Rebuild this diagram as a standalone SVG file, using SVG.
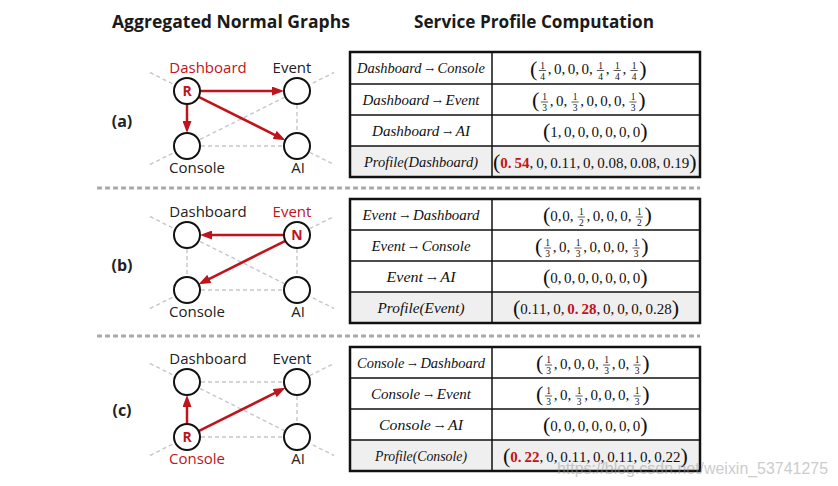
<svg xmlns="http://www.w3.org/2000/svg" width="838" height="486" viewBox="0 0 838 486">
<defs>
<style>
.title{font-family:"Open Sans","Liberation Sans",sans-serif;font-weight:700;font-size:17px;fill:#1a1a1a}
.lbl{font-family:"Open Sans","Liberation Sans",sans-serif;font-size:15px;fill:#222;text-anchor:middle}
.red{fill:#c0141c}
.sec{font-family:"Open Sans","Liberation Sans",sans-serif;font-weight:700;font-size:16px;fill:#222;text-anchor:middle}
.nd{fill:#fff;stroke:#111;stroke-width:2}
.ltr{font-family:"Open Sans","Liberation Sans",sans-serif;font-weight:700;font-size:14px;fill:#c0141c;text-anchor:middle}
.dash{stroke:#c3c8cc;stroke-width:1.4;stroke-dasharray:4 3;fill:none}
.arr{stroke:#c0141c;stroke-width:2.5;fill:none;marker-end:url(#ah)}
.sep{stroke:#aaa;stroke-width:3;stroke-dasharray:5 3}
.tb{fill:none;stroke:#111;stroke-width:2.5}
.pr{fill:#efefef}
.gl{stroke:#111;stroke-width:1.5}
.lt{font-family:"Liberation Serif","Times New Roman",serif;font-style:italic;font-size:14.5px;fill:#111;text-anchor:middle}
.ar{font-family:"DejaVu Serif","Liberation Serif",serif;font-style:normal;font-size:10.5px}
.m{font-family:"Liberation Serif","Times New Roman",serif;font-size:15px;fill:#111}
.mb{font-family:"Liberation Serif","Times New Roman",serif;font-size:15px;font-weight:700;fill:#c0141c}
.bp{font-family:"Liberation Serif","Times New Roman",serif;font-size:22px;fill:#111}
.fr{font-family:"Liberation Serif","Times New Roman",serif;font-size:9.5px;fill:#111;text-anchor:middle}
.fb{stroke:#111;stroke-width:0.7}
.wm{font-family:"Liberation Sans",Arial,sans-serif;font-size:16px;fill:#9a9a9a;opacity:0.5}
</style>
<marker id="ah" markerUnits="userSpaceOnUse" viewBox="0 0 12 9" markerWidth="12" markerHeight="9" refX="1" refY="4.5" orient="auto"><path d="M0,0 L12,4.5 L0,9 z" fill="#c0141c"/></marker>
<g id="f14"><text class="fr" y="-2">1</text><line class="fb" x1="-3.6" x2="3.6" y1="0" y2="0"/><text class="fr" y="9">4</text></g>
<g id="f13"><text class="fr" y="-2">1</text><line class="fb" x1="-3.6" x2="3.6" y1="0" y2="0"/><text class="fr" y="9">3</text></g>
<g id="f12"><text class="fr" y="-2">1</text><line class="fb" x1="-3.6" x2="3.6" y1="0" y2="0"/><text class="fr" y="9">2</text></g>
</defs>
<rect width="838" height="486" fill="#fff"/>

<text class="title" x="112" y="28" textLength="238" lengthAdjust="spacingAndGlyphs">Aggregated Normal Graphs</text>
<text class="title" x="414" y="28" textLength="240" lengthAdjust="spacingAndGlyphs">Service Profile Computation</text>

<g id="separators">
<line class="sep" x1="97" y1="188" x2="700" y2="188"/>
<line class="sep" x1="97" y1="336" x2="700" y2="336"/>
</g>

<g id="connectors">
<line class="dash" x1="150" y1="72.5" x2="187" y2="91"/>
<line class="dash" x1="297" y1="146" x2="334" y2="164.5"/>
<line class="dash" x1="150" y1="164.5" x2="334" y2="72.5"/>
<line class="dash" x1="187" y1="146" x2="297" y2="146"/>
<line class="dash" x1="297" y1="91" x2="297" y2="146"/>
<line class="arr" x1="200" y1="91" x2="273" y2="91"/>
<line class="arr" x1="187" y1="104" x2="187" y2="122"/>
<line class="arr" x1="198.6" y1="96.8" x2="275.6" y2="135.3"/>
<line class="dash" x1="187" y1="235" x2="187" y2="290"/>
<line class="dash" x1="187" y1="290" x2="297" y2="290"/>
<line class="dash" x1="297" y1="235" x2="297" y2="290"/>
<line class="dash" x1="150" y1="216.5" x2="334" y2="308.5"/>
<line class="dash" x1="150" y1="308.5" x2="187" y2="290"/>
<line class="dash" x1="297" y1="235" x2="334" y2="216.5"/>
<line class="arr" x1="284" y1="235" x2="211" y2="235"/>
<line class="arr" x1="285.4" y1="240.8" x2="208.4" y2="279.3"/>
<line class="dash" x1="187" y1="382" x2="297" y2="382"/>
<line class="dash" x1="187" y1="437" x2="297" y2="437"/>
<line class="dash" x1="297" y1="382" x2="297" y2="437"/>
<line class="dash" x1="150" y1="363.5" x2="334" y2="455.5"/>
<line class="dash" x1="150" y1="455.5" x2="187" y2="437"/>
<line class="dash" x1="297" y1="382" x2="334" y2="363.5"/>
<line class="arr" x1="187" y1="424" x2="187" y2="406"/>
<line class="arr" x1="198.6" y1="431.2" x2="275.6" y2="392.7"/>
</g>

<text class="sec" x="122" y="127">(a)</text>
<text class="sec" x="122" y="271">(b)</text>
<text class="sec" x="122" y="416">(c)</text>

<g id="a-dashboard"><circle class="nd" cx="187" cy="91" r="13"/><text class="ltr" x="187" y="96">R</text><text class="lbl red" x="208" y="73">Dashboard</text></g>
<g id="a-event"><circle class="nd" cx="297" cy="91" r="13"/><text class="lbl" x="292" y="73">Event</text></g>
<g id="a-console"><circle class="nd" cx="187" cy="146" r="13"/><text class="lbl" x="197" y="173">Console</text></g>
<g id="a-ai"><circle class="nd" cx="297" cy="146" r="13"/><text class="lbl" x="298" y="173">AI</text></g>

<g id="b-dashboard"><circle class="nd" cx="187" cy="235" r="13"/><text class="lbl" x="208" y="217">Dashboard</text></g>
<g id="b-event"><circle class="nd" cx="297" cy="235" r="13"/><text class="ltr" x="297" y="240">N</text><text class="lbl red" x="292" y="217">Event</text></g>
<g id="b-console"><circle class="nd" cx="187" cy="290" r="13"/><text class="lbl" x="197" y="317">Console</text></g>
<g id="b-ai"><circle class="nd" cx="297" cy="290" r="13"/><text class="lbl" x="298" y="317">AI</text></g>

<g id="c-dashboard"><circle class="nd" cx="187" cy="382" r="13"/><text class="lbl" x="208" y="364">Dashboard</text></g>
<g id="c-event"><circle class="nd" cx="297" cy="382" r="13"/><text class="lbl" x="292" y="364">Event</text></g>
<g id="c-console"><circle class="nd" cx="187" cy="437" r="13"/><text class="ltr" x="187" y="442">R</text><text class="lbl red" x="197" y="464">Console</text></g>
<g id="c-ai"><circle class="nd" cx="297" cy="437" r="13"/><text class="lbl" x="298" y="464">AI</text></g>

<g id="table-a">
<rect class="pr" x="350" y="146" width="350" height="31"/>
<rect class="tb" x="350" y="52" width="350" height="125"/>
<line class="gl" x1="350" y1="84" x2="700" y2="84"/>
<line class="gl" x1="350" y1="115" x2="700" y2="115"/>
<line class="gl" x1="350" y1="146" x2="700" y2="146"/>
<line class="gl" x1="492" y1="52" x2="492" y2="177"/>
<text class="lt" x="421" y="73" textLength="128" lengthAdjust="spacingAndGlyphs">Dashboard <tspan class="ar">→</tspan> Console</text>
<text class="lt" x="421" y="104.5" textLength="117" lengthAdjust="spacingAndGlyphs">Dashboard <tspan class="ar">→</tspan> Event</text>
<text class="lt" x="421" y="135.5" textLength="98" lengthAdjust="spacingAndGlyphs">Dashboard <tspan class="ar">→</tspan> AI</text>
<text class="lt" x="421" y="166.5" textLength="114" lengthAdjust="spacingAndGlyphs">Profile(Dashboard)</text>
<text class="bp" x="530" y="75.6">(</text><text class="bp" x="639.3" y="75.6">)</text>
<use href="#f14" x="542.55" y="70.5"/><use href="#f14" x="600.55" y="70.5"/><use href="#f14" x="617.3" y="70.5"/><use href="#f14" x="634.05" y="70.5"/>
<text class="m" x="547.8 554.05 561.55 567.8 575.3 581.55 589.05 605.8 622.55" y="74">,0,0,0,,,</text>
<text class="bp" x="532" y="107.1">(</text><text class="bp" x="638.3" y="107.1">)</text>
<use href="#f13" x="544.55" y="102"/><use href="#f13" x="575.05" y="102"/><use href="#f13" x="633.05" y="102"/>
<text class="m" x="549.8 556.05 563.55 580.3 586.55 594.05 600.3 607.8 614.05 621.55" y="105.5">,0,,0,0,0,</text>
<text class="bp" x="543" y="138.1">(</text><text class="bp" x="640.3" y="138.1">)</text>
<text class="m" x="550.3 557.8 564.05 571.55 577.8 585.3 591.55 599.05 605.3 612.8 619.05 626.55 632.8" y="136.5">1,0,0,0,0,0,0</text>
<text class="bp" x="493" y="169.1">(</text><text class="bp" x="689.15" y="169.1">)</text>
<text class="mb" x="500.3 507.8 514.55 522.05" y="167.5">0.54</text>
<text class="m" x="529.55 536.15 543.65 550.25 557.75 561.5 569 576.5 583.1 590.6 597.2 604.7 608.45 615.95 623.45 630.05 637.55 641.3 648.8 656.3 662.9 670.4 674.15 681.65" y="167.5">,0,0.11,0,0.08,0.08,0.19</text>
</g>

<g id="table-b">
<rect class="pr" x="350" y="292" width="350" height="31"/>
<rect class="tb" x="350" y="199" width="350" height="124"/>
<line class="gl" x1="350" y1="230" x2="700" y2="230"/>
<line class="gl" x1="350" y1="261" x2="700" y2="261"/>
<line class="gl" x1="350" y1="292" x2="700" y2="292"/>
<line class="gl" x1="492" y1="199" x2="492" y2="323"/>
<text class="lt" x="421" y="219.5" textLength="117" lengthAdjust="spacingAndGlyphs">Event <tspan class="ar">→</tspan> Dashboard</text>
<text class="lt" x="421" y="250.5" textLength="99" lengthAdjust="spacingAndGlyphs">Event <tspan class="ar">→</tspan> Console</text>
<text class="lt" x="421" y="281.5" textLength="69" lengthAdjust="spacingAndGlyphs">Event <tspan class="ar">→</tspan> AI</text>
<text class="lt" x="421" y="312.5" textLength="87" lengthAdjust="spacingAndGlyphs">Profile(Event)</text>
<text class="bp" x="543" y="222.1">(</text><text class="bp" x="644.55" y="222.1">)</text>
<use href="#f12" x="581.3" y="217"/><use href="#f12" x="639.3" y="217"/>
<text class="m" x="550.3 557.8 562.3 569.8 586.55 592.8 600.3 606.55 614.05 620.3 627.8" y="220.5">0,0,,0,0,0,</text>
<text class="bp" x="535" y="253.1">(</text><text class="bp" x="641.3" y="253.1">)</text>
<use href="#f13" x="547.55" y="248"/><use href="#f13" x="578.05" y="248"/><use href="#f13" x="636.05" y="248"/>
<text class="m" x="552.8 559.05 566.55 583.3 589.55 597.05 603.3 610.8 617.05 624.55" y="251.5">,0,,0,0,0,</text>
<text class="bp" x="543" y="284.1">(</text><text class="bp" x="640.3" y="284.1">)</text>
<text class="m" x="550.3 557.8 564.05 571.55 577.8 585.3 591.55 599.05 605.3 612.8 619.05 626.55 632.8" y="282.5">0,0,0,0,0,0,0</text>
<text class="bp" x="513" y="315.1">(</text><text class="bp" x="671.65" y="315.1">)</text>
<text class="m" x="520.3 527.8 531.55 539.05 546.55 553.15 560.65" y="313.5">0.11,0,</text>
<text class="mb" x="567.25 574.75 581.5 589" y="313.5">0.28</text>
<text class="m" x="596.5 603.1 610.6 617.2 624.7 631.3 638.8 645.4 652.9 656.65 664.15" y="313.5">,0,0,0,0.28</text>
</g>

<g id="table-c">
<rect class="pr" x="350" y="440" width="350" height="31"/>
<rect class="tb" x="350" y="347" width="350" height="124"/>
<line class="gl" x1="350" y1="378" x2="700" y2="378"/>
<line class="gl" x1="350" y1="409" x2="700" y2="409"/>
<line class="gl" x1="350" y1="440" x2="700" y2="440"/>
<line class="gl" x1="492" y1="347" x2="492" y2="471"/>
<text class="lt" x="421" y="367.5" textLength="128" lengthAdjust="spacingAndGlyphs">Console <tspan class="ar">→</tspan> Dashboard</text>
<text class="lt" x="421" y="398.5" textLength="100" lengthAdjust="spacingAndGlyphs">Console <tspan class="ar">→</tspan> Event</text>
<text class="lt" x="421" y="429.5" textLength="84" lengthAdjust="spacingAndGlyphs">Console <tspan class="ar">→</tspan> AI</text>
<text class="lt" x="421" y="460.5" textLength="92" lengthAdjust="spacingAndGlyphs">Profile(Console)</text>
<text class="bp" x="536" y="370.1">(</text><text class="bp" x="642.3" y="370.1">)</text>
<use href="#f13" x="548.55" y="365"/><use href="#f13" x="606.55" y="365"/><use href="#f13" x="637.05" y="365"/>
<text class="m" x="553.8 560.05 567.55 573.8 581.3 587.55 595.05 611.8 618.05 625.55" y="368.5">,0,0,0,,0,</text>
<text class="bp" x="536" y="401.1">(</text><text class="bp" x="642.3" y="401.1">)</text>
<use href="#f13" x="548.55" y="396"/><use href="#f13" x="579.05" y="396"/><use href="#f13" x="637.05" y="396"/>
<text class="m" x="553.8 560.05 567.55 584.3 590.55 598.05 604.3 611.8 618.05 625.55" y="399.5">,0,,0,0,0,</text>
<text class="bp" x="543" y="432.1">(</text><text class="bp" x="640.3" y="432.1">)</text>
<text class="m" x="550.3 557.8 564.05 571.55 577.8 585.3 591.55 599.05 605.3 612.8 619.05 626.55 632.8" y="430.5">0,0,0,0,0,0,0</text>
<text class="bp" x="503" y="463.1">(</text><text class="bp" x="680.4" y="463.1">)</text>
<text class="mb" x="510.3 517.8 524.55 532.05" y="461.5">0.22</text>
<text class="m" x="539.55 546.15 553.65 560.25 567.75 571.5 579 586.5 593.1 600.6 607.2 614.7 618.45 625.95 633.45 640.05 647.55 654.15 661.65 665.4 672.9" y="461.5">,0,0.11,0,0.11,0,0.22</text>
</g>

<text class="wm" x="557" y="474" textLength="271" lengthAdjust="spacingAndGlyphs">https://blog.csdn.net/weixin_53741275</text>
</svg>
